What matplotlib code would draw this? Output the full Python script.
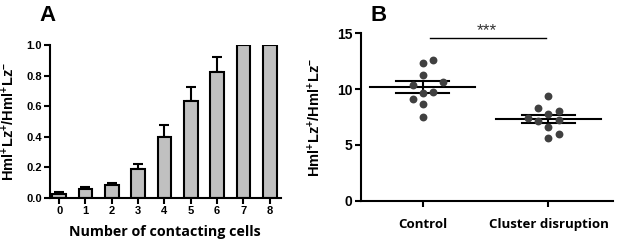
import matplotlib
matplotlib.use('Agg')
import matplotlib.pyplot as plt
import numpy as np

plt.rcParams['font.family'] = ['Liberation Sans', 'DejaVu Sans']
plt.rcParams['mathtext.fontset'] = 'custom'
plt.rcParams['mathtext.rm'] = 'Liberation Sans'
plt.rcParams['mathtext.bf'] = 'Liberation Sans:bold'

# panel A data
contacts = [0, 1, 2, 3, 4, 5, 6, 7, 8]
ratio = [0.028, 0.062, 0.087, 0.19, 0.40, 0.635, 0.825, 1.0, 1.0]
ratio_err = [0.012, 0.008, 0.012, 0.03, 0.075, 0.09, 0.095, 0.0, 0.0]

# panel B data
groups = ['Control', 'Cluster disruption']
control_vals = [12.35, 12.56, 11.25, 10.38, 10.6, 9.67, 9.73, 9.08, 8.66, 7.53]
control_dx = [0.0, 0.08, 0.0, -0.08, 0.16, 0.0, 0.08, -0.08, 0.0, 0.0]
cluster_vals = [9.4, 8.3, 7.8, 8.0, 7.4, 7.25, 7.1, 6.6, 5.95, 5.6]
cluster_dx = [0.0, -0.08, 0.0, 0.08, -0.16, 0.08, -0.08, 0.0, 0.08, 0.0]

ylab = r'$\mathbf{Hml^{+}Lz^{+}/Hml^{+}Lz^{-}}$'
lab_font = dict(family=['Open Sans', 'DejaVu Sans'], fontweight='bold')

fig = plt.figure(figsize=(6.17, 2.43), dpi=100)

# ---- A ----
ax = fig.add_axes([0.081, 0.185, 0.374, 0.63])
ax.bar(contacts, ratio, width=0.52, color='#c0c0c0', edgecolor='black',
       linewidth=1.5, zorder=2)
ax.errorbar(contacts, ratio, yerr=[np.zeros(len(ratio_err)), ratio_err],
            fmt='none', ecolor='black', elinewidth=1.5, capsize=3.5,
            capthick=1.5, zorder=1)
ax.set_xlim(-0.35, 8.42)
ax.set_ylim(0, 1.0)
ax.set_yticks(np.arange(0, 1.01, 0.2))
ax.set_yticklabels(['%.1f' % v for v in np.arange(0, 1.01, 0.2)])
ax.set_xticks(contacts)
for s in ['top', 'right']:
    ax.spines[s].set_visible(False)
for s in ['left', 'bottom']:
    ax.spines[s].set_linewidth(1.5)
ax.tick_params(width=1.5, length=4, labelsize=8, pad=2)
for t in ax.get_xticklabels() + ax.get_yticklabels():
    t.set_fontweight('bold')
ax.set_xlabel('Number of contacting cells', fontsize=10.3, labelpad=6, **lab_font)
ax.set_ylabel(ylab, fontsize=10.5)
ax.yaxis.set_label_coords(-0.14, 0.5)
fig.text(0.064, 0.935, 'A', fontsize=16, fontweight='bold', ha='left', va='center')

# ---- B ----
bx = fig.add_axes([0.585, 0.173, 0.408, 0.691])
for i, (vals, dx) in enumerate([(control_vals, control_dx), (cluster_vals, cluster_dx)]):
    vals = np.array(vals)
    bx.scatter(i + np.array(dx), vals, s=32, color='#404040', zorder=3,
               linewidths=0)
    m = vals.mean()
    sem = vals.std(ddof=1) / np.sqrt(len(vals))
    bx.plot([i - 0.42, i + 0.42], [m, m], color='black', lw=1.5, zorder=2)
    for y in (m - sem, m + sem):
        bx.plot([i - 0.21, i + 0.21], [y, y], color='black', lw=1.5, zorder=2)
    bx.plot([i, i], [m - sem, m + sem], color='black', lw=1.5, zorder=2)

bx.plot([0.06, 0.98], [14.6, 14.6], color='black', lw=1.0)
bx.text(0.51, 14.55, '***', ha='center', va='bottom', fontsize=12.5, color='#333333')
bx.set_xlim(-0.49, 1.51)
bx.set_ylim(0, 15)
bx.set_yticks([0, 5, 10, 15])
bx.set_xticks([0, 1])
bx.set_xticklabels(groups, fontsize=9.5, **lab_font)
for s in ['top', 'right']:
    bx.spines[s].set_visible(False)
for s in ['left', 'bottom']:
    bx.spines[s].set_linewidth(1.5)
bx.tick_params(width=1.5, length=4)
bx.tick_params(axis='y', labelsize=10, pad=2)
bx.tick_params(axis='x', pad=8)
for t in bx.get_yticklabels():
    t.set_fontweight('bold')
bx.set_ylabel(ylab, fontsize=10.5)
bx.yaxis.set_label_coords(-0.15, 0.5)
fig.text(0.6, 0.935, 'B', fontsize=16, fontweight='bold', ha='left', va='center')

fig.savefig('out.png', dpi=100)
